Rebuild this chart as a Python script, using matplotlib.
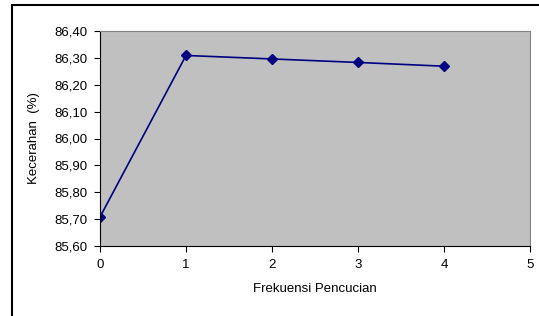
import matplotlib.pyplot as plt
from matplotlib.patches import Rectangle
from matplotlib.ticker import FuncFormatter

plt.rcParams['font.family'] = ['Liberation Sans', 'DejaVu Sans']

frekuensi = [0, 1, 2, 3, 4]
kecerahan = [85.708, 86.309, 86.296, 86.283, 86.269]

W, H = 539, 316
fig = plt.figure(figsize=(W / 100, H / 100), dpi=100)

# outer chart frame (right and bottom run off the picture)
fig.patches.append(Rectangle((12 / W, -0.1), 1.2, 1 - 5 / H + 0.1,
                             transform=fig.transFigure, fill=False,
                             edgecolor='black', linewidth=1.5))

ax = fig.add_axes([100 / W, 1 - 246 / H, 430 / W, 215 / H])
ax.set_facecolor('#c0c0c0')
ax.plot(frekuensi, kecerahan, color='#000080', linewidth=1.2,
        marker='D', markersize=5, markerfacecolor='#000080',
        markeredgecolor='#000080')

ax.set_xlim(0, 5)
ax.set_ylim(85.6, 86.4)
ax.set_xticks(range(6))
ax.set_yticks([85.6 + 0.1 * i for i in range(9)])
ax.yaxis.set_major_formatter(FuncFormatter(lambda v, p: f'{v:.2f}'.replace('.', ',')))

for s in ['top', 'right']:
    ax.spines[s].set_color('#808080')
for s in ['left', 'bottom']:
    ax.spines[s].set_color('black')
ax.tick_params(direction='out', length=4, width=0.8, labelsize=9.5, pad=5)

ax.set_xlabel('Frekuensi Pencucian', fontsize=9.5, labelpad=9)
ax.set_ylabel('Kecerahan  (%)', fontsize=9.5, labelpad=10)

fig.savefig('out.png', dpi=100)
